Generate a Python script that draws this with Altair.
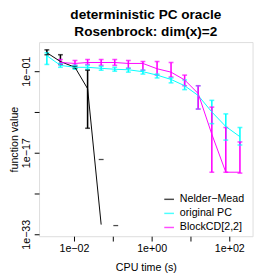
import altair as alt
import pandas as pd

# CPU times (s) shared by the three methods
times = [2.0e-3, 4.47e-3, 1.06e-2, 2.24e-2, 5.01e-2, 0.112, 0.251, 0.596,
         1.38, 3.16, 7.08, 15.8, 35.5, 81.3, 188.0]

methods = ["Nelder\u2212Mead", "original PC", "BlockCD[2,2]"]
colors = ["#000000", "#00FFFF", "#FF00FF"]

# Nelder-Mead
nm_y = [4.2e2, 7.9, 0.58, 3.7e-5, 7.9e-32]
nm_lo = [1.7e2, 2.1, 0.37, 6.3e-13]
nm_hi = [1.55e3, 1.7e2, 0.89, 0.155]
nm_dash_x = [5.01e-2, 0.119]
nm_dash_y = [4.7e-19, 5.1e-32]

# original PC
pc_y = [1.1e2, 1.4, 0.58, 0.58, 0.37, 0.24, 0.19, 7.9e-2, 1.7e-2, 2.4e-3,
        1.4e-4, 1.7e-6, 1.0e-9, 1.4e-12, 1.4e-14]
pc_lo = [2.1, 0.58, 0.24, 0.24, 0.155, 0.1, 6.5e-2, 2.7e-2, 4.7e-3, 5.1e-4,
         2.4e-5, 3.7e-9, 5.1e-12, 3.0e-15, 3.3e-16]
pc_hi = [4.2e2, 3.3, 1.4, 1.4, 0.89, 0.58, 0.37, 0.155, 2.7e-2, 4.7e-3,
         1.9e-3, 1.4e-4, 1.9e-7, 4.2e-10, 8.9e-13]

# BlockCD[2,2] (starts at the second time)
bc_y = [5.1, 3.3, 5.1, 5.1, 5.1, 3.3, 3.3, 0.30, 6.5e-2, 1.9e-3, 4.2e-6,
        4.2e-14, 1.5e-21, 1.5e-21]
bc_lo = [2.1, 1.4, 2.1, 1.4, 1.4, 0.37, 0.155, 1.7e-2, 7.2e-3, 1.4e-4,
         3.7e-9, 1.5e-21, 1.5e-21, 1.0e-21]
bc_hi = [19.5, 12.6, 19.5, 19.5, 19.5, 12.6, 7.9, 7.9, 5.1, 1.7e-2, 1.4e-4,
         8.9e-9, 8.9e-13, 1.3e-15]

rows = []
for i, v in enumerate(nm_y):
    rows.append(dict(method=methods[0], x=times[i], y=v, o=0))
for i, v in enumerate(pc_y):
    rows.append(dict(method=methods[1], x=times[i], y=v, o=1))
for i, v in enumerate(bc_y):
    rows.append(dict(method=methods[2], x=times[i + 1], y=v, o=2))
lines = pd.DataFrame(rows)

erows = []
for i in range(len(nm_lo)):
    erows.append(dict(method=methods[0], x=times[i], lo=nm_lo[i], hi=nm_hi[i]))
for i in range(len(pc_lo)):
    erows.append(dict(method=methods[1], x=times[i], lo=pc_lo[i], hi=pc_hi[i]))
for i in range(len(bc_lo)):
    erows.append(dict(method=methods[2], x=times[i + 1], lo=bc_lo[i], hi=bc_hi[i]))
errs = pd.DataFrame(erows)

dashes = pd.DataFrame(dict(method=[methods[0]] * 2, x=nm_dash_x, y=nm_dash_y))

FONT = "Liberation Sans"
xscale = alt.Scale(type="log", domain=[10 ** -2.9, 10 ** 2.6], nice=False)
yscale = alt.Scale(type="log", domain=[10 ** -33.38, 10 ** 4.71], nice=False)

xaxis = alt.Axis(
    values=[0.01, 0.1, 1, 10, 100],
    labelExpr="datum.value < 0.05 ? '1e\u221202' : datum.value < 0.5 ? '' : datum.value < 5 ? '1e+00' : datum.value < 50 ? '' : '1e+02'",
    grid=False, domain=False, tickSize=5, tickColor="black",
    labelFontSize=11, labelFont=FONT, labelColor="black", labelPadding=2,
    titleFontSize=11, titleFont=FONT, titleFontWeight="normal", titleColor="black",
    titlePadding=8, labelFlush=False, labelOverlap=False,
)
yaxis = alt.Axis(
    values=[1e-33, 1e-25, 1e-17, 1e-9, 0.1],
    labelExpr="datum.value < 1e-30 ? '1e\u221233' : datum.value < 1e-20 ? '' : datum.value < 1e-12 ? '1e\u221217' : datum.value < 1e-5 ? '' : '1e\u221201'",
    grid=False, domain=False, tickSize=5, tickColor="black",
    labelFontSize=11, labelFont=FONT, labelColor="black", labelPadding=3,
    labelAngle=270, labelAlign="center", labelBaseline="bottom",
    titleFontSize=11, titleFont=FONT, titleFontWeight="normal", titleColor="black",
    titlePadding=1, labelFlush=False, labelOverlap=False,
)

legend = alt.Legend(
    orient="none", legendX=128, legendY=156, title=None,
    symbolType="stroke", symbolSize=100, symbolStrokeWidth=1.5,
    labelFontSize=11, labelFont=FONT, labelColor="black",
    rowPadding=3.5, labelOffset=5,
)
color = alt.Color("method:N", scale=alt.Scale(domain=methods, range=colors), legend=legend)

X = alt.X("x:Q", scale=xscale, axis=xaxis, title="CPU time (s)")

line_layer = alt.Chart(lines).mark_line(strokeWidth=1).encode(
    x=X,
    y=alt.Y("y:Q", scale=yscale, axis=yaxis, title="function value"),
    color=color,
    detail="o:N",
)

rule_layer = alt.Chart(errs).mark_rule(strokeWidth=1.6).encode(
    x=X,
    y=alt.Y("lo:Q", scale=yscale, axis=yaxis, title="function value"),
    y2="hi:Q",
    color=color,
)
cap_lo = alt.Chart(errs).mark_tick(orient="horizontal", size=5, thickness=1.6).encode(
    x=X,
    y=alt.Y("lo:Q", scale=yscale, axis=yaxis, title="function value"),
    color=color,
)
cap_hi = alt.Chart(errs).mark_tick(orient="horizontal", size=5, thickness=1.6).encode(
    x=X,
    y=alt.Y("hi:Q", scale=yscale, axis=yaxis, title="function value"),
    color=color,
)
dash_layer = alt.Chart(dashes).mark_tick(orient="horizontal", size=5, thickness=1.3).encode(
    x=X,
    y=alt.Y("y:Q", scale=yscale, axis=yaxis, title="function value"),
    color=color,
)

chart = alt.layer(rule_layer, cap_lo, cap_hi, dash_layer, line_layer).properties(
    width=220, height=200,
    title=alt.TitleParams(
        ["deterministic PC oracle", "Rosenbrock: dim(x)=2"],
        fontSize=14, font=FONT, fontWeight="bold", anchor="middle",
        lineHeight=18, offset=3, color="black",
    ),
    autosize=alt.AutoSizeParams(type="none"),
    padding={"left": 32, "top": 31, "right": 20, "bottom": 41},
).configure_view(stroke="black", strokeWidth=1).configure(background="white")

chart.save("out.html", embed_options={"renderer": "svg", "actions": False})
